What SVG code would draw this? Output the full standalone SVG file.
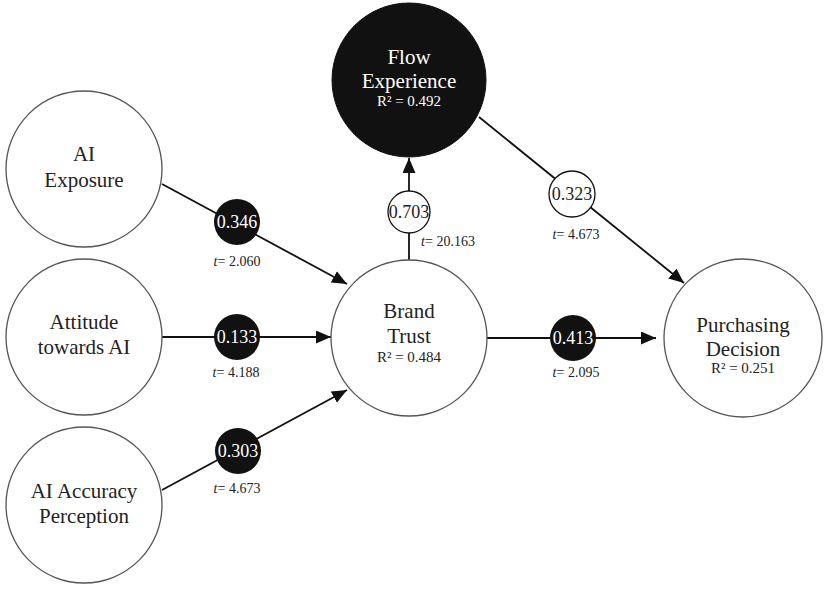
<svg xmlns="http://www.w3.org/2000/svg" width="825" height="591" viewBox="0 0 825 591" font-family="'Liberation Serif', 'Times New Roman', 'DejaVu Serif', serif">
<defs>
<marker id="arr" markerUnits="userSpaceOnUse" markerWidth="15" markerHeight="13" refX="15" refY="6.5" orient="auto">
<path d="M0,0 L15,6.5 L0,13 z" fill="#111"/>
</marker>
<style>
text{font-family:'Liberation Serif','Times New Roman','DejaVu Serif',serif}
.node{fill:#fff;stroke:#555;stroke-width:1.3}
.dark{fill:#111;stroke:#111}
.lbl{font-size:21px;fill:#222;text-anchor:middle}
.lblw{font-size:21px;fill:#fff;text-anchor:middle}
.r2{font-size:15px;fill:#222;text-anchor:middle}
.r2w{font-size:15px;fill:#fff;text-anchor:middle}
.conn{stroke:#111;stroke-width:1.8;fill:none}
.coefB{fill:#111}
.coefW{fill:#fff;stroke:#111;stroke-width:1.3}
.ctw{font-size:18px;text-anchor:middle;fill:#fff}
.ctb{font-size:18px;text-anchor:middle;fill:#222}
.t{font-size:14px;fill:#222;text-anchor:middle}
</style>
</defs>
<rect width="825" height="591" fill="#fff"/>
<g id="connectors">
<line class="conn" x1="162" y1="184" x2="347" y2="284" marker-end="url(#arr)"/>
<line class="conn" x1="162" y1="337" x2="331" y2="337" marker-end="url(#arr)"/>
<line class="conn" x1="162" y1="490" x2="347" y2="390" marker-end="url(#arr)"/>
<line class="conn" x1="409" y1="260" x2="409" y2="158" marker-end="url(#arr)"/>
<line class="conn" x1="487" y1="338" x2="656" y2="338" marker-end="url(#arr)"/>
<line class="conn" x1="479" y1="117" x2="684" y2="283" marker-end="url(#arr)"/>
<g id="c346"><circle class="coefB" cx="237" cy="222" r="23"/><text class="ctw" x="237" y="228">0.346</text></g>
<g id="c133"><circle class="coefB" cx="237" cy="337" r="23"/><text class="ctw" x="237" y="343">0.133</text></g>
<g id="c303"><circle class="coefB" cx="238" cy="451" r="23"/><text class="ctw" x="238" y="457">0.303</text></g>
<g id="c703"><circle class="coefW" cx="409" cy="212" r="21"/><text class="ctb" x="409" y="218">0.703</text></g>
<g id="c413"><circle class="coefB" cx="573" cy="338" r="23"/><text class="ctw" x="573" y="344">0.413</text></g>
<g id="c323"><circle class="coefW" cx="572" cy="194" r="23"/><text class="ctb" x="572" y="200">0.323</text></g>
<text class="t" x="237" y="266"><tspan font-style="italic">t</tspan>= 2.060</text>
<text class="t" x="236" y="377"><tspan font-style="italic">t</tspan>= 4.188</text>
<text class="t" x="237" y="493"><tspan font-style="italic">t</tspan>= 4.673</text>
<text class="t" x="448" y="246"><tspan font-style="italic">t</tspan>= 20.163</text>
<text class="t" x="576" y="377"><tspan font-style="italic">t</tspan>= 2.095</text>
<text class="t" x="576" y="239"><tspan font-style="italic">t</tspan>= 4.673</text>
</g>
<g id="ai-exposure"><circle class="node" cx="84" cy="169" r="78"/><text class="lbl" x="84" y="161">AI</text><text class="lbl" x="84" y="187">Exposure</text></g>
<g id="attitude"><circle class="node" cx="84" cy="337" r="78"/><text class="lbl" x="84" y="329">Attitude</text><text class="lbl" x="84" y="354">towards AI</text></g>
<g id="ai-accuracy"><circle class="node" cx="84" cy="505" r="78"/><text class="lbl" x="84" y="498">AI Accuracy</text><text class="lbl" x="84" y="523">Perception</text></g>
<g id="flow"><circle class="dark" cx="409" cy="80" r="77"/><text class="lblw" x="409" y="64">Flow</text><text class="lblw" x="409" y="88">Experience</text><text class="r2w" x="409" y="106">R² = 0.492</text></g>
<g id="brand-trust"><circle class="node" cx="409" cy="338" r="78"/><text class="lbl" x="409" y="318">Brand</text><text class="lbl" x="409" y="343">Trust</text><text class="r2" x="409" y="362">R² = 0.484</text></g>
<g id="purchasing"><circle class="node" cx="743" cy="338" r="79"/><text class="lbl" x="743" y="332">Purchasing</text><text class="lbl" x="743" y="356">Decision</text><text class="r2" x="743" y="373">R² = 0.251</text></g>
</svg>
